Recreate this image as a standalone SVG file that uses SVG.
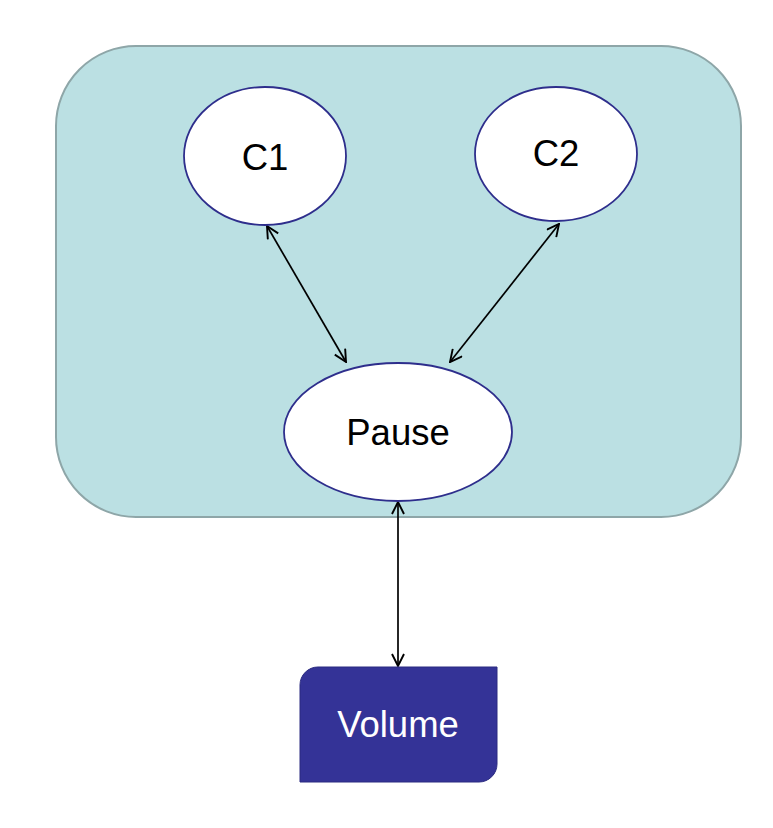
<svg xmlns="http://www.w3.org/2000/svg" width="773" height="828" viewBox="0 0 773 828">
  <style>
    .node { fill: #ffffff; stroke: #2e2e8c; stroke-width: 1.8; }
    .label { font-family: "Liberation Sans", Arial, sans-serif; font-size: 36.5px; text-anchor: middle; dominant-baseline: central; fill: #000000; }
    .link { stroke: #000000; stroke-width: 1.7; fill: none; marker-start: url(#open); marker-end: url(#open); }
  </style>
  <defs>
    <marker id="open" viewBox="0 0 14 14" refX="13" refY="7" markerWidth="14" markerHeight="14" markerUnits="userSpaceOnUse" orient="auto-start-reverse">
      <path d="M1,1 L13,7 L1,13" fill="none" stroke="#000000" stroke-width="1.9"/>
    </marker>
  </defs>
  <rect width="773" height="828" fill="#ffffff"/>

  <g id="pod">
    <rect x="56" y="46" width="685" height="471" rx="80" ry="80" fill="#bbe0e3" stroke="#8ea6a8" stroke-width="2"/>
  </g>

  <g id="connectors">
    <line class="link" x1="267" y1="226" x2="346" y2="362"/>
    <line class="link" x1="559" y1="224" x2="450" y2="362"/>
    <line class="link" x1="398" y1="502" x2="398" y2="666"/>
  </g>

  <g id="c1">
    <ellipse class="node" cx="265" cy="156" rx="81" ry="69"/>
    <text class="label" x="265" y="157">C1</text>
  </g>
  <g id="c2">
    <ellipse class="node" cx="556" cy="154" rx="81" ry="67"/>
    <text class="label" x="556" y="153">C2</text>
  </g>
  <g id="pause">
    <ellipse class="node" cx="398" cy="432" rx="114" ry="69"/>
    <text class="label" x="398" y="432">Pause</text>
  </g>
  <g id="volume">
    <path d="M318,667 H497 V764 A18,18 0 0 1 479,782 H300 V685 A18,18 0 0 1 318,667 Z" fill="#343397" stroke="#2b2b80" stroke-width="1"/>
    <text class="label" x="398" y="724" style="fill:#ffffff">Volume</text>
  </g>
</svg>
